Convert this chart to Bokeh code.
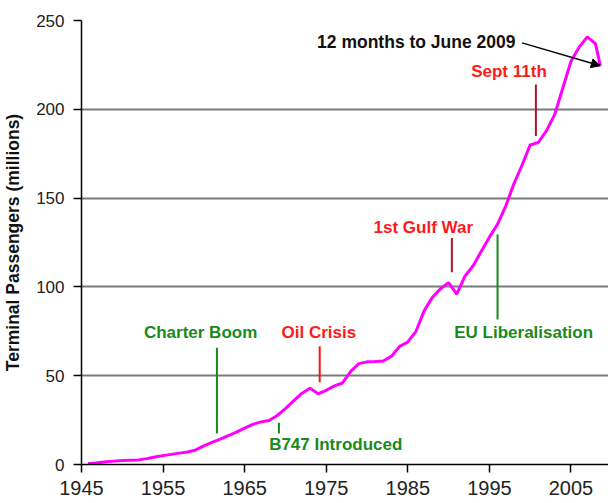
from bokeh.plotting import figure
from bokeh.models import Range1d, FixedTicker, Arrow, NormalHead
from bokeh.core.properties import value
from bokeh.embed import file_html
from bokeh.resources import INLINE

# ---- data -------------------------------------------------------------
years = [1945.8, 1947, 1948, 1949, 1950, 1951, 1952, 1953, 1954, 1955, 1956,
         1957, 1958, 1959, 1960, 1961, 1962, 1963, 1964, 1965, 1966, 1967,
         1968, 1969, 1970, 1971, 1972, 1973, 1974, 1975, 1976, 1977, 1978,
         1979, 1980, 1981, 1982, 1983, 1984, 1985, 1986, 1987, 1988, 1989,
         1990, 1991, 1992, 1993, 1994, 1995, 1996, 1997, 1998, 1999, 2000,
         2001, 2002, 2003, 2004, 2005, 2006, 2007, 2008, 2008.6]
passengers = [0.4, 1.0, 1.5, 1.9, 2.2, 2.4, 2.6, 3.3, 4.2, 5.0, 5.7,
              6.4, 7.0, 8.2, 10.5, 12.5, 14.3, 16.3, 18.2, 20.5, 22.6, 24.0,
              24.8, 27.6, 31.5, 35.8, 40.0, 43.0, 39.8, 41.8, 44.3, 45.9, 52.4,
              56.8, 57.8, 58.0, 58.3, 61.0, 66.5, 69.0, 75.0, 86.5, 94.0, 99.0,
              102.4, 95.9, 106.0, 111.8, 120.0, 128.0, 135.3, 145.5, 158.0, 168.5, 180.0,
              181.3, 188.0, 197.0, 212.0, 227.0, 235.0, 240.8, 237.0, 224.5]

x_ticks = [1945, 1955, 1965, 1975, 1985, 1995, 2005]
y_ticks = [0, 50, 100, 150, 200, 250]

# event markers: year of marker line, line bottom, line top, colour
event_names = ["Charter Boom", "B747 Introduced", "Oil Crisis",
               "1st Gulf War", "EU Liberalisation", "Sept 11th"]
event_x = [1961.6, 1969.2, 1974.2, 1990.4, 1996.0, 2000.7]
event_y0 = [17.5, 17.5, 46.3, 108.3, 81.6, 185.0]
event_y1 = [65.7, 23.5, 66.6, 127.6, 129.5, 214.0]
event_line_colors = ["#1a8a1a", "#1a8a1a", "#ff1010", "#b01428", "#1a8a1a", "#b01428"]
# event label positions
label_x = [1959.6, 1968.0, 1974.1, 1986.9, 1999.2, 1997.4]
label_y = [74.5, 11.3, 74.5, 133.4, 74.5, 221.5]
label_align = ["center", "left", "center", "center", "center", "center"]
label_colors = ["#1a8a1a", "#1a8a1a", "#ff1a1a", "#ff1a1a", "#1a8a1a", "#ff1a1a"]

note_text = "12 months to June 2009"
note_x, note_y = 1998.2, 238.0
arrow_start = (1999.0, 237.4)
arrow_end = (2008.6, 224.5)

# ---- figure -----------------------------------------------------------
p = figure(width=608, height=502, output_backend="svg", toolbar_location=None,
           x_range=Range1d(1945, 2009.6), y_range=Range1d(0, 250),
           min_border_left=74, min_border_right=0, min_border_top=20,
           min_border_bottom=38)
p.outline_line_color = None
p.background_fill_color = "white"
p.border_fill_color = "white"

p.xgrid.grid_line_color = None
p.ygrid.grid_line_color = "#7a7a7a"
p.ygrid.grid_line_width = 2
p.ygrid.ticker = FixedTicker(ticks=y_ticks)

p.xaxis.ticker = FixedTicker(ticks=x_ticks)
p.yaxis.ticker = FixedTicker(ticks=y_ticks)
for ax in (p.xaxis, p.yaxis):
    ax.axis_line_color = "black"
    ax.axis_line_width = 1.5
    ax.major_tick_line_color = "black"
    ax.major_tick_line_width = 1.5
    ax.major_tick_out = 8
    ax.major_tick_in = 0
    ax.minor_tick_line_color = None
    ax.major_label_text_font = "Liberation Sans"
    ax.major_label_text_color = "#222222"
    ax.major_label_standoff = 9

p.xaxis.major_label_text_font_size = "20px"
p.yaxis.major_label_text_font_size = "17px"
p.xaxis.major_label_standoff = 8

p.yaxis.axis_label = "Terminal Passengers (millions)"
p.yaxis.axis_label_text_font = "Liberation Sans"
p.yaxis.axis_label_text_font_style = "bold"
p.yaxis.axis_label_text_font_size = "17.5px"
p.yaxis.axis_label_text_color = "#111111"
p.yaxis.axis_label_standoff = 10

# main series
p.line(years, passengers, line_color="#ff00ff", line_width=3)

# event markers
p.segment(x0=event_x, y0=event_y0, x1=event_x, y1=event_y1,
          line_color=event_line_colors, line_width=2)

p.text(x=label_x, y=label_y, text=event_names, text_color=label_colors,
       text_align=label_align, text_baseline="middle",
       text_font=value("Liberation Sans"), text_font_style="bold",
       text_font_size="17px")

p.text(x=[note_x], y=[note_y], text=[note_text], text_color="#111111",
       text_align="right", text_baseline="middle",
       text_font=value("Liberation Sans"), text_font_style="bold",
       text_font_size="17.5px")

p.add_layout(Arrow(end=NormalHead(size=9, fill_color="black", line_color="black"),
                   x_start=arrow_start[0], y_start=arrow_start[1],
                   x_end=arrow_end[0], y_end=arrow_end[1],
                   line_color="black", line_width=1.5))

open("out.html", "w").write(file_html(p, INLINE))
